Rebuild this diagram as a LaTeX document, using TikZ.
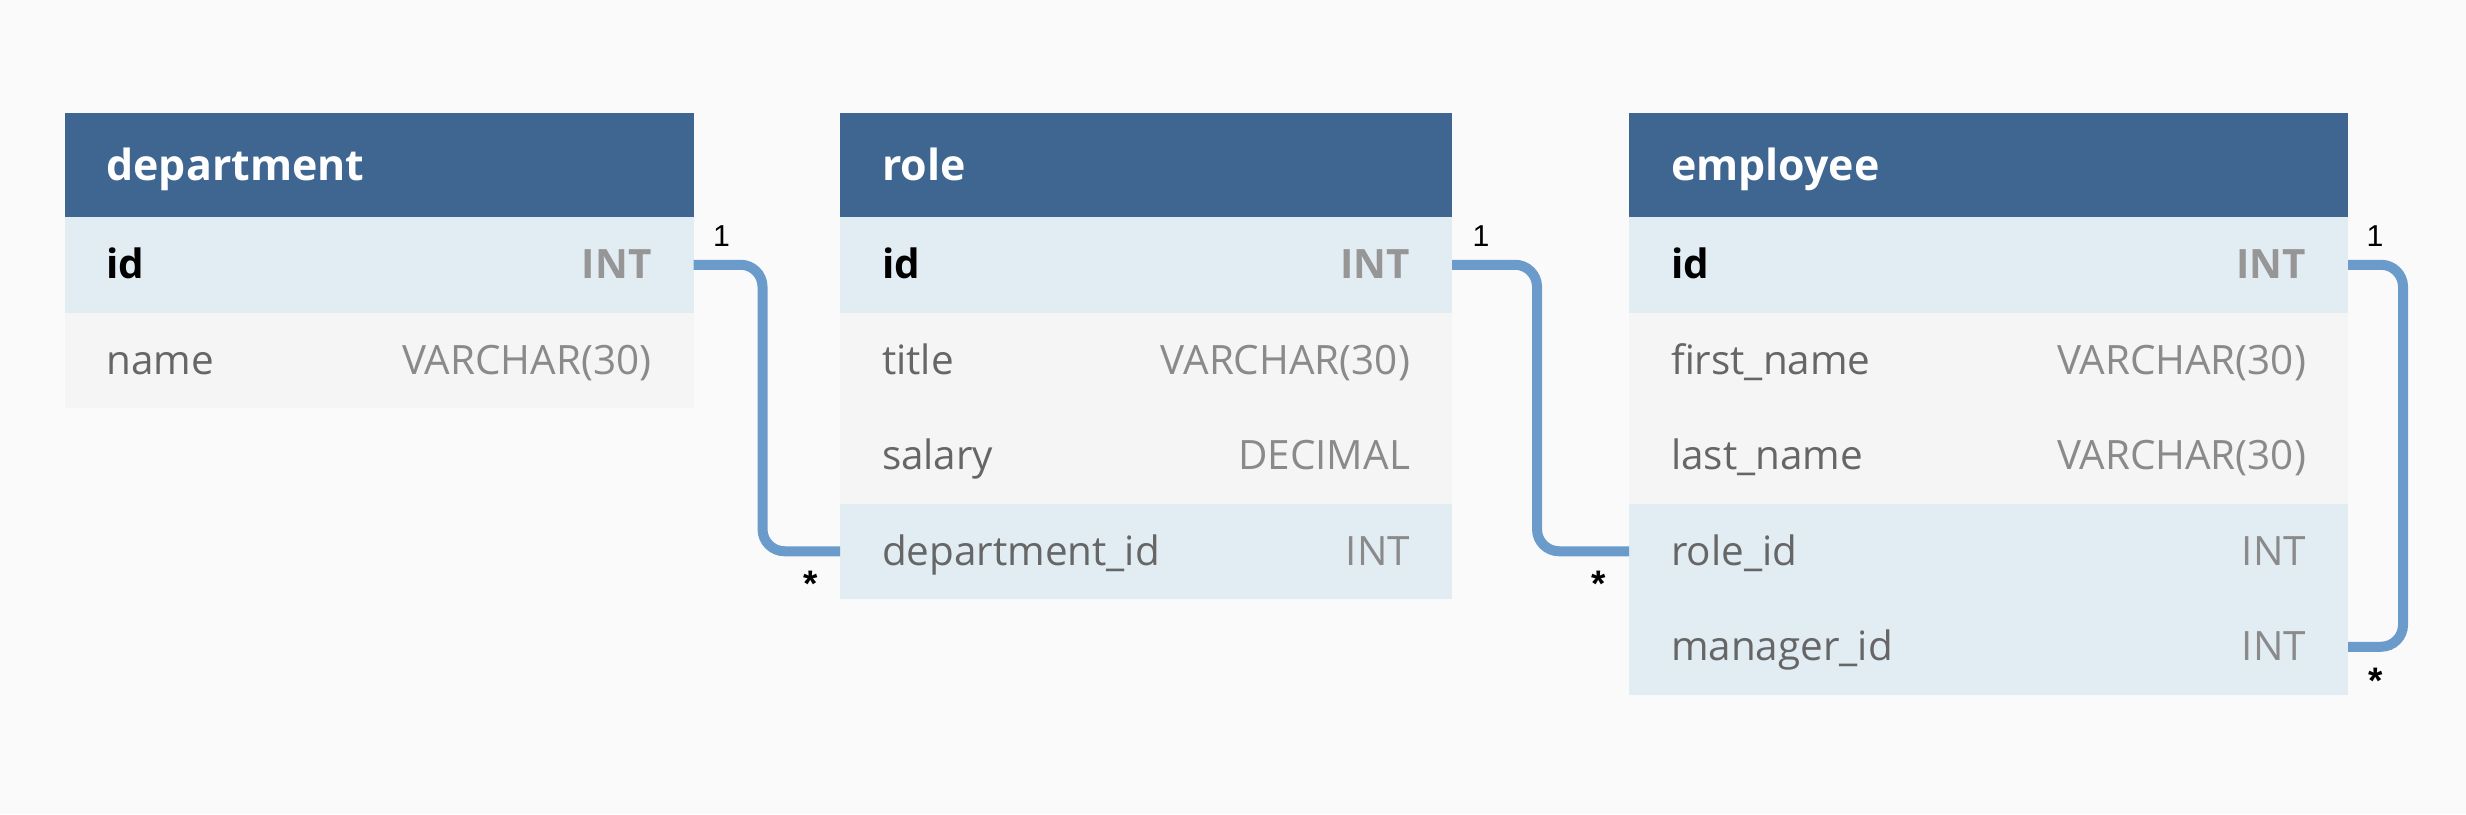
\documentclass[tikz,border=0pt]{standalone}
\usepackage{fontspec}
\setmainfont{Open Sans}
\newfontfamily\multfont{Liberation Sans}
\usetikzlibrary{positioning}

\definecolor{pagebg}{RGB}{250,250,250}
\definecolor{headblue}{RGB}{62,102,144}
\definecolor{keyblue}{RGB}{225,236,243}
\definecolor{rowgrey}{RGB}{245,245,245}
\definecolor{fieldgrey}{RGB}{102,102,102}
\definecolor{typegrey}{RGB}{138,138,138}
\definecolor{pktype}{RGB}{150,150,150}
\definecolor{linkblue}{RGB}{107,155,203}

\newcommand{\pkfield}[2]{\textbf{#1}\hfill\textcolor{pktype}{\textbf{#2}}}
\newcommand{\colfield}[2]{\textcolor{fieldgrey}{#1}\hfill\textcolor{typegrey}{#2}}

\tikzset{
  cell/.style={inner xsep=0.42cm, inner ysep=0pt, outer sep=0pt, align=left,
    font=\fontsize{11.5}{13}\selectfont, text height=8.1pt, text depth=0pt},
  tablehead/.style={cell, fill=headblue, text=white, minimum height=1.04cm,
    font=\fontsize{12.2}{14}\selectfont\bfseries, text height=8.9pt},
  keyrow/.style={cell, fill=keyblue, minimum height=0.955cm},
  plainrow/.style={cell, fill=rowgrey, minimum height=0.955cm},
  deptw/.style={text width=5.45cm},
  rolew/.style={text width=5.28cm},
  empw/.style={text width=6.35cm},
  link/.style={draw=linkblue, line width=0.1cm, rounded corners=0.22cm},
  mult/.style={font=\multfont\fontsize{8.6}{10}\selectfont, inner sep=0pt},
  many/.style={font=\multfont\bfseries\fontsize{10.5}{12}\selectfont, inner sep=0pt}
}

\begin{document}
\begin{tikzpicture}

    \fill[pagebg] (0,0) rectangle (24.66,-8.14);
    \useasboundingbox (0,0) rectangle (24.66,-8.14);

    % department
    \node[tablehead, deptw, anchor=north west] (dept) at (0.645,-1.13) {department};
    \node[keyrow, deptw, below=0pt of dept] (dept-id) {\pkfield{id}{INT}};
    \node[plainrow, deptw, below=0pt of dept-id] (dept-name) {\colfield{name}{VARCHAR(30)}};

    % role
    \node[tablehead, rolew, anchor=north west] (role) at (8.40,-1.13) {role};
    \node[keyrow, rolew, below=0pt of role] (role-id) {\pkfield{id}{INT}};
    \node[plainrow, rolew, below=0pt of role-id] (role-title) {\colfield{title}{VARCHAR(30)}};
    \node[plainrow, rolew, below=0pt of role-title] (role-salary) {\colfield{salary}{DECIMAL}};
    \node[keyrow, rolew, below=0pt of role-salary] (role-deptid) {\colfield{department\_id}{INT}};

    % employee
    \node[tablehead, empw, anchor=north west] (emp) at (16.29,-1.13) {employee};
    \node[keyrow, empw, below=0pt of emp] (emp-id) {\pkfield{id}{INT}};
    \node[plainrow, empw, below=0pt of emp-id] (emp-first) {\colfield{first\_name}{VARCHAR(30)}};
    \node[plainrow, empw, below=0pt of emp-first] (emp-last) {\colfield{last\_name}{VARCHAR(30)}};
    \node[keyrow, empw, below=0pt of emp-last] (emp-roleid) {\colfield{role\_id}{INT}};
    \node[keyrow, empw, below=0pt of emp-roleid] (emp-manager) {\colfield{manager\_id}{INT}};

    % relations
    \draw[link] (dept-id.east) -- ++(0.69,0) |- (role-deptid.west);
    \draw[link] (role-id.east) -- ++(0.85,0) |- (emp-roleid.west);
    \draw[link] (emp-id.east) -- ++(0.55,0) |- (emp-manager.east);

    \node[mult] (m-dept) at ([shift={(0.28,0.29)}]dept-id.east) {1};
    \node[mult] (m-role) at ([shift={(0.29,0.29)}]role-id.east) {1};
    \node[mult] (m-emp) at ([shift={(0.27,0.29)}]emp-id.east) {1};
    \node[many] (s-role) at ([shift={(-0.295,-0.33)}]role-deptid.west) {*};
    \node[many] (s-emp) at ([shift={(-0.30,-0.33)}]emp-roleid.west) {*};
    \node[many] (s-mgr) at ([shift={(0.28,-0.34)}]emp-manager.east) {*};

\end{tikzpicture}
\end{document}
